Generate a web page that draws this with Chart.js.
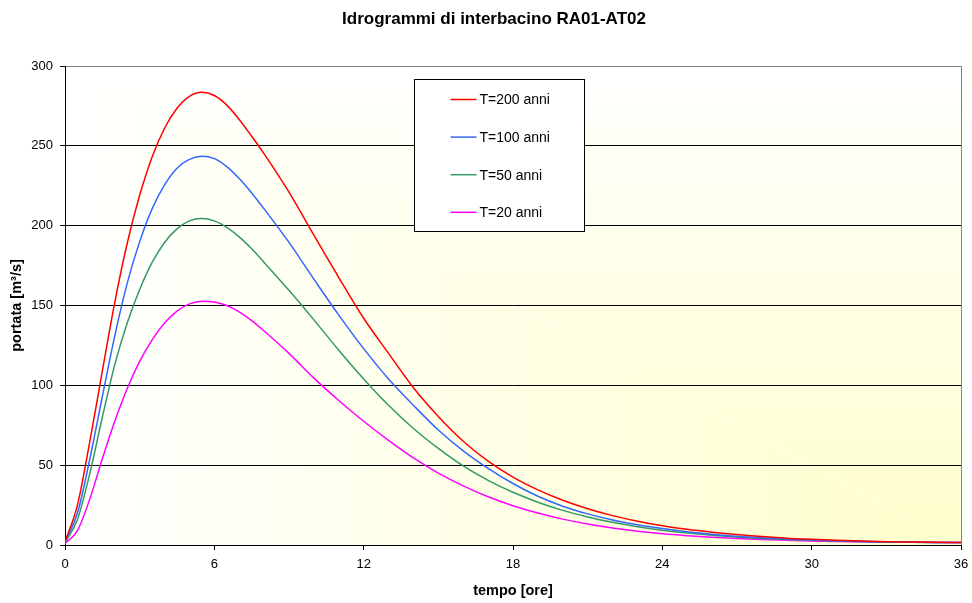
<!DOCTYPE html>
<html>
<head>
<meta charset="utf-8">
<title>Idrogrammi di interbacino RA01-AT02</title>
<script src="https://cdn.jsdelivr.net/npm/chart.js@4/dist/chart.umd.min.js"></script>
<style>
    html, body { margin: 0; padding: 0; background: #fff; }
    #wrap { width: 972px; height: 603px; }
</style>
</head>
<body>
<div id="wrap"><canvas id="idrogrammi" width="972" height="603"></canvas></div>
<script>
// tempo [ore] - half hour steps on the rising limb, then hourly
var tempo = [0, 0.5, 1, 1.5, 2, 2.5, 3, 3.5, 4, 4.5, 5, 5.5, 6, 6.5, 7, 7.5, 8,
    9, 10, 11, 12, 13, 14, 15, 16, 17, 18, 19, 20, 21, 22, 23, 24, 25, 26, 27,
    28, 29, 30, 31, 32, 33, 34, 35, 36];

// portata [m3/s] for each return period
var q200 = [2, 25, 65, 109, 152, 189, 219, 243, 261, 273.5, 281, 283.5, 281.5, 275.5, 266.5, 256, 245,
    221, 194, 167.5, 142, 120, 98.5, 80.5, 65, 52.5, 42.5, 34.5, 28, 22.7, 18.4, 14.9, 12.1, 9.8, 8, 6.5,
    5.3, 4.3, 3.6, 3, 2.5, 2.1, 1.85, 1.65, 1.5];
var q100 = [2, 20, 54, 93, 131, 164, 190, 210.5, 225.5, 236, 241.5, 243.5, 242, 237, 229.5, 220.5, 210.5,
    189.5, 166.5, 144, 123, 104, 87.5, 72, 59, 48, 38.5, 30.5, 24.3, 19.5, 15.7, 12.7, 10.3, 8.3, 6.8, 5.5,
    4.5, 3.7, 3.1, 2.6, 2.2, 1.95, 1.75, 1.6, 1.5];
var q50 = [1.5, 16, 45, 80, 113, 139, 160, 177, 189.5, 198, 203, 204.5, 203, 199, 193, 185.5, 177,
    159.5, 141, 122, 104, 87.5, 73, 60.5, 49.5, 40.5, 33, 26.8, 21.7, 17.6, 14.2, 11.5, 9.3, 7.5, 6.1, 5,
    4.1, 3.4, 2.9, 2.5, 2.2, 1.95, 1.75, 1.6, 1.5];
var q20 = [1, 9, 29, 54, 77.5, 98, 115, 128.5, 139, 146.5, 151, 152.7, 152.2, 150, 146, 140.5, 134,
    120, 104.5, 90.5, 77.5, 65.5, 54.5, 45, 37, 30.2, 24.6, 20, 16.2, 13.1, 10.6, 8.6, 7, 5.8, 4.8, 4,
    3.4, 2.9, 2.5, 2.2, 2, 1.8, 1.7, 1.6, 1.5];

var serieNomi = ['T=200 anni', 'T=100 anni', 'T=50 anni', 'T=20 anni'];
var serieColori = ['#ff0000', '#3366ff', '#339966', '#ff00ff'];
var serieDati = [q200, q100, q50, q20];

var xTicks = [0, 6, 12, 18, 24, 30, 36];
var yTicks = [0, 50, 100, 150, 200, 250, 300];

var titolo = 'Idrogrammi di interbacino RA01-AT02';
var FONT = '"Liberation Sans", Arial, sans-serif';

function punti(valori) {
    return tempo.map(function (t, i) { return { x: t, y: valori[i] }; });
}

// white -> pale yellow, shaded from the bottom-right corner
var sfondo = {
    id: 'sfondo',
    beforeDraw: function (chart) {
        var ctx = chart.ctx, a = chart.chartArea;
        ctx.save();
        // upper-right half: shade goes top -> bottom
        ctx.beginPath();
        ctx.moveTo(a.left, a.top);
        ctx.lineTo(a.right, a.top);
        ctx.lineTo(a.right, a.bottom);
        ctx.closePath();
        var gv = ctx.createLinearGradient(0, a.top, 0, a.bottom);
        gv.addColorStop(0, '#ffffff');
        gv.addColorStop(1, '#ffffcc');
        ctx.fillStyle = gv;
        ctx.fill();
        // lower-left half: shade goes left -> right
        ctx.beginPath();
        ctx.moveTo(a.left, a.top);
        ctx.lineTo(a.left, a.bottom);
        ctx.lineTo(a.right, a.bottom);
        ctx.closePath();
        var go = ctx.createLinearGradient(a.left, 0, a.right, 0);
        go.addColorStop(0, '#ffffff');
        go.addColorStop(1, '#ffffcc');
        ctx.fillStyle = go;
        ctx.fill();

        // chart title, a bit right of the page centre
        ctx.fillStyle = '#000000';
        ctx.font = 'bold 17px ' + FONT;
        ctx.textAlign = 'center';
        ctx.textBaseline = 'middle';
        ctx.fillText(titolo, 494, 19);
        ctx.restore();
    },
    beforeDatasetsDraw: function (chart) {
        // grey frame on the right side of the plot
        var ctx = chart.ctx, a = chart.chartArea;
        ctx.save();
        ctx.strokeStyle = '#808080';
        ctx.lineWidth = 1;
        ctx.beginPath();
        ctx.moveTo(Math.round(a.right) + 0.5, a.top);
        ctx.lineTo(Math.round(a.right) + 0.5, a.bottom);
        ctx.stroke();
        ctx.restore();
    }
};

// boxed legend inside the plot area
var legenda = {
    id: 'legenda',
    afterDraw: function (chart) {
        var ctx = chart.ctx, a = chart.chartArea;
        var bx = Math.round(a.left + 349) + 0.5, by = Math.round(a.top + 13) + 0.5;
        var bw = 170, bh = 152;
        ctx.save();
        ctx.fillStyle = '#ffffff';
        ctx.fillRect(bx, by, bw, bh);
        ctx.strokeStyle = '#000000';
        ctx.lineWidth = 1;
        ctx.strokeRect(bx, by, bw, bh);
        ctx.font = '14px ' + FONT;
        ctx.textBaseline = 'middle';
        ctx.textAlign = 'left';
        chart.data.datasets.forEach(function (ds, i) {
            var y = by + 20 + i * 37.6;
            ctx.strokeStyle = ds.borderColor;
            ctx.lineWidth = 1.5;
            ctx.beginPath();
            ctx.moveTo(bx + 36, y);
            ctx.lineTo(bx + 62, y);
            ctx.stroke();
            ctx.fillStyle = '#000000';
            ctx.fillText(ds.label, bx + 65, y + 1);
        });
        ctx.restore();
    }
};

var ctx = document.getElementById('idrogrammi').getContext('2d');
var myChart = new Chart(ctx, {
    type: 'line',
    data: {
        datasets: serieNomi.map(function (nome, i) {
            return {
                label: nome,
                data: punti(serieDati[i]),
                borderColor: serieColori[i],
                backgroundColor: serieColori[i],
                borderWidth: 1.5,
                pointRadius: 0,
                fill: false,
                cubicInterpolationMode: 'monotone'
            };
        })
    },
    options: {
        responsive: false,
        animation: false,
        devicePixelRatio: 1,
        layout: { padding: { left: 0, right: 0, top: 66, bottom: 0 } },
        plugins: {
            legend: { display: false },
            tooltip: { enabled: false },
            title: { display: false }
        },
        scales: {
            x: {
                type: 'linear',
                min: 0,
                max: 36,
                afterFit: function (scale) {
                    scale.height = 58;
                    scale.paddingLeft = 0;
                    scale.paddingRight = 11; // room for the "36" label
                },
                afterBuildTicks: function (scale) {
                    scale.ticks = xTicks.map(function (v) { return { value: v }; });
                },
                ticks: { color: '#000', font: { family: FONT, size: 13 }, padding: 7, maxRotation: 0 },
                grid: { drawOnChartArea: false, drawTicks: true, tickLength: 5, tickColor: '#000' },
                border: { color: '#000', width: 1 },
                title: {
                    display: true,
                    text: 'tempo [ore]',
                    color: '#000',
                    font: { family: FONT, size: 14.5, weight: 'bold' },
                    padding: { top: 0, bottom: 3 }
                }
            },
            y: {
                min: 0,
                max: 300,
                afterFit: function (scale) { scale.width = 65; },
                afterBuildTicks: function (scale) {
                    scale.ticks = yTicks.map(function (v) { return { value: v }; });
                },
                ticks: { color: '#000', font: { family: FONT, size: 13 }, padding: 7 },
                grid: {
                    color: function (c) { return c.tick && c.tick.value === 300 ? '#808080' : '#000'; },
                    tickColor: '#000',
                    tickLength: 5,
                    lineWidth: 1
                },
                border: { color: '#000', width: 1 },
                title: {
                    display: true,
                    text: 'portata [m³/s]',
                    color: '#000',
                    font: { family: FONT, size: 14.5, weight: 'bold' },
                    padding: { top: 8, bottom: 0 }
                }
            }
        }
    },
    plugins: [sfondo, legenda]
});
</script>
</body>
</html>
